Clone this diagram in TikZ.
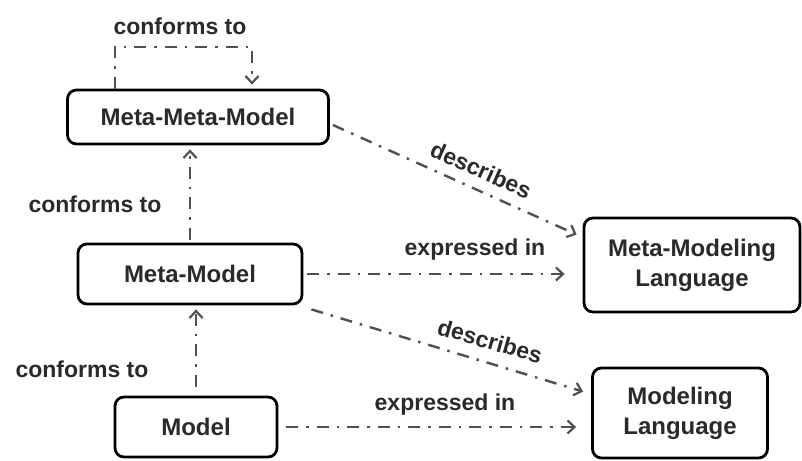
\documentclass[tikz,border=0pt]{standalone}
\usepackage{fontspec}
\setmainfont{Liberation Sans}
\usetikzlibrary{arrows.meta}
\definecolor{ink}{HTML}{2A2A2A}
\definecolor{wire}{HTML}{505050}
\tikzset{
  box/.style={draw=black, line width=2.8pt, rounded corners=9pt, fill=white,
    text=ink, font=\fontsize{24}{28}\selectfont\bfseries, align=center, inner sep=0pt},
  conn/.style={draw=wire, line width=2.4pt,
    dash pattern=on 12pt off 8pt on 2.5pt off 8pt,
    -{Straight Barb[length=7pt,width=13pt,line width=2.2pt]}},
  lbl/.style={text=ink, font=\fontsize{23}{27}\selectfont\bfseries, inner sep=0pt},
}
\begin{document}
\begin{tikzpicture}[x=1pt,y=-1pt]
\useasboundingbox (0,0) rectangle (802,460);

% model nodes
\node[box, minimum width=261pt, minimum height=54pt] (mmm) at (198,117) {Meta-Meta-Model};
\node[box, minimum width=224pt, minimum height=60pt] (mm) at (190,274) {Meta-Model};
\node[box, minimum width=162pt, minimum height=60pt] (m) at (196,427) {Model};
\node[box, minimum width=216pt, minimum height=94pt] (mml) at (692,265) {Meta-Modeling\\[2pt]Language};
\node[box, minimum width=175pt, minimum height=90pt] (ml) at (680,413) {Modeling\\[2pt]Language};

% helper coordinates for the self loop
\coordinate (lx) at (115,0);
\coordinate (rx) at (252,0);
\coordinate (ly) at (0,47);

% conforms-to relations
\draw[conn] (lx |- mmm.north) -- (lx |- ly) -- (rx |- ly) -- ([yshift=4pt]rx |- mmm.north);
\draw[conn, shorten <=3pt, shorten >=4pt] (mm.north) -- (mm.north |- mmm.south);
\draw[conn, shorten <=9pt, shorten >=4pt] (m.north) -- (m.north |- mm.south);

% describes / expressed-in relations
\draw[conn] ([xshift=3pt,yshift=-8pt]mmm.east) -- ([xshift=-6pt,yshift=-18pt]mml.north west);
\draw[conn, shorten <=4pt, shorten >=18pt] (mm.east) -- (mm.east -| mml.west);
\draw[conn] ([xshift=8pt,yshift=-4pt]mm.south east) -- ([xshift=-8pt,yshift=-25pt]ml.north west);
\draw[conn, shorten <=8pt, shorten >=15pt] (m.east) -- (m.east -| ml.west);

% relation labels
\node[lbl] (c1) at (180,26) {conforms to};
\node[lbl] (c2) at (95,204) {conforms to};
\node[lbl] (c3) at (82,369) {conforms to};
\node[lbl, rotate=-24] (d1) at (481,170) {describes};
\node[lbl, rotate=-16] (d2) at (490,341) {describes};
\node[lbl] (e1) at (475,250) {expressed in};
\node[lbl] (e2) at (445,405) {expressed in};
\end{tikzpicture}
\end{document}
